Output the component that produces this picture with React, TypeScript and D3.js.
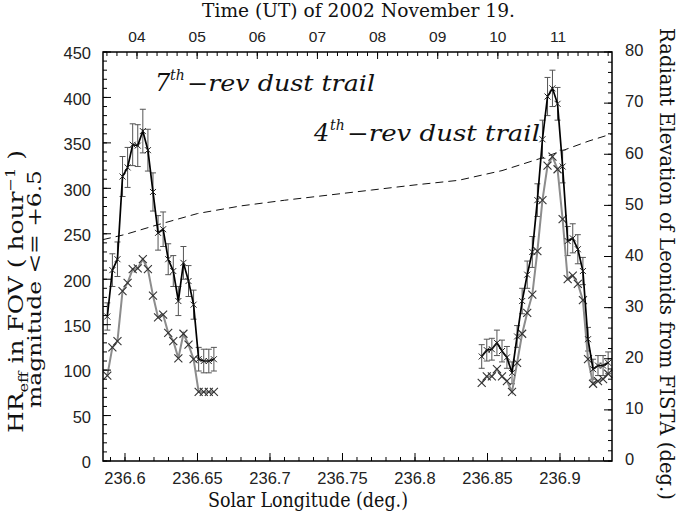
import * as d3 from 'd3';

// ── Layout ────────────────────────────────────────────────────────────────────
const W = 679;
const H = 515;
const FL = 103;
const FR = 612;
const FT = 52;
const FB = 461;

// ── Data ──────────────────────────────────────────────────────────────────────
// 7th-rev group (solar longitude, deg.)
const LEFT_X = [
  236.5878, 236.5913, 236.5948, 236.5983, 236.6018, 236.6053, 236.6088, 236.6123,
  236.6158, 236.6193, 236.6228, 236.6263, 236.6298, 236.6333, 236.6368, 236.6403,
  236.6438, 236.6473, 236.6508, 236.6543, 236.6578, 236.6613,
];
const LEFT_HR = [159, 210, 222, 313, 323, 348, 347, 363, 342, 296, 251, 255, 222, 209, 176, 218, 198, 172, 112, 110, 110, 112];
const LEFT_ERR = [15, 18, 19, 22, 22, 23, 23, 24, 23, 21, 19, 19, 17, 17, 16, 18, 17, 16, 13, 13, 13, 13];
const LEFT_GRAY = [94, 125, 132, 187, 196, 211, 212, 222, 211, 182, 158, 161, 141, 132, 113, 140, 128, 112, 76, 76, 76, 76];

// 4th-rev group
const RIGHT_X = [
  236.8460, 236.8495, 236.8530, 236.8565, 236.8600, 236.8634, 236.8669, 236.8704,
  236.8739, 236.8774, 236.8809, 236.8844, 236.8879, 236.8914, 236.8948, 236.8983,
  236.9018, 236.9053, 236.9088, 236.9123, 236.9158, 236.9193, 236.9228, 236.9262,
  236.9297, 236.9332,
];
const RIGHT_HR = [115, 122, 123, 130, 121, 114, 97, 137, 176, 205, 230, 287, 354, 401, 410, 393, 324, 242, 245, 233, 209, 134, 101, 105, 105, 108];
const RIGHT_ERR = [13, 12, 12, 14, 12, 12, 12, 12, 14, 15, 17, 18, 21, 21, 20, 18, 18, 16, 16, 16, 15, 13, 11, 11, 11, 12];
const RIGHT_GRAY = [86, 93, 93, 101, 93, 88, 76, 108, 140, 163, 183, 231, 287, 325, 335, 321, 266, 200, 204, 195, 177, 112, 85, 88, 90, 96];

// Radiant elevation (right axis)
const ELEV_X = [236.5848, 236.60, 236.62, 236.65, 236.68, 236.71, 236.74, 236.77, 236.80, 236.83, 236.86, 236.89, 236.92, 236.9359];
const ELEV = [43.3, 44.3, 46.0, 48.4, 49.9, 51.0, 52.0, 53.0, 54.0, 54.9, 56.8, 59.5, 62.6, 64.0];

// ── Ticks ─────────────────────────────────────────────────────────────────────
const X_TICKS = [236.6, 236.65, 236.7, 236.75, 236.8, 236.85, 236.9];
const X_TICK_LABELS = ['236.6', '236.65', '236.7', '236.75', '236.8', '236.85', '236.9'];
const HOURS = [4, 5, 6, 7, 8, 9, 10, 11];
const HOUR_LABELS = ['04', '05', '06', '07', '08', '09', '10', '11'];
const YL_TICKS = [0, 50, 100, 150, 200, 250, 300, 350, 400, 450];
const YR_TICKS = [0, 10, 20, 30, 40, 50, 60, 70, 80];

const SANS = '"Liberation Sans", Arial, sans-serif';
const SERIF = '"DejaVu Serif", serif';

export default function App() {
  const x = d3.scaleLinear().domain([236.58483, 236.93586]).range([FL, FR]);
  const t = d3.scaleLinear().domain([3.4347, 11.8979]).range([FL, FR]);
  const yL = d3.scaleLinear().domain([0, 450]).range([FB, FT]);
  const yR = d3.scaleLinear().domain([0, 80]).range([FB, FT]);

  const xMinor = d3.range(23659, 23694).map(v => v / 100);
  const tMinor = d3.range(21, 72).map(v => v / 6);
  const ylMinor = d3.range(0, 451, 10);
  const yrMinor = d3.range(0, 81, 2);

  const lineL = d3.line<[number, number]>().x(d => x(d[0])).y(d => yL(d[1]));
  const lineR = d3.line<[number, number]>().x(d => x(d[0])).y(d => yR(d[1]));

  const groups = [
    { xs: LEFT_X, hr: LEFT_HR, err: LEFT_ERR, gray: LEFT_GRAY },
    { xs: RIGHT_X, hr: RIGHT_HR, err: RIGHT_ERR, gray: RIGHT_GRAY },
  ];

  const cross = (cx: number, cy: number, r: number) =>
    `M${cx - r},${cy - r}L${cx + r},${cy + r}M${cx - r},${cy + r}L${cx + r},${cy - r}`;

  return (
    <svg width={W} height={H} style={{ position: 'absolute', left: 0, top: 0, background: '#fff' }}>
      {/* dashed radiant elevation */}
      <path
        d={lineR(ELEV_X.map((v, i) => [v, ELEV[i]] as [number, number])) ?? ''}
        fill="none" stroke="#111" strokeWidth={1} strokeDasharray="8,5"
      />

      {groups.map((g, gi) => (
        <g key={gi}>
          {/* error bars */}
          {g.xs.map((v, i) => {
            const cx = x(v);
            const y1 = yL(g.hr[i] + g.err[i]);
            const y2 = yL(g.hr[i] - g.err[i]);
            return (
              <path key={i}
                d={`M${cx},${y1}L${cx},${y2}M${cx - 3},${y1}L${cx + 3},${y1}M${cx - 3},${y2}L${cx + 3},${y2}`}
                stroke="#555" strokeWidth={1} fill="none" />
            );
          })}
          {/* gray series */}
          <path d={lineL(g.xs.map((v, i) => [v, g.gray[i]] as [number, number])) ?? ''}
            fill="none" stroke="#8c8c8c" strokeWidth={2} />
          {g.xs.map((v, i) => (
            <path key={`g${i}`} d={cross(x(v), yL(g.gray[i]), 4)} stroke="#333" strokeWidth={1.1} fill="none" />
          ))}
          {/* black series */}
          <path d={lineL(g.xs.map((v, i) => [v, g.hr[i]] as [number, number])) ?? ''}
            fill="none" stroke="#000" strokeWidth={1.7} />
          {g.xs.map((v, i) => (
            <path key={`b${i}`} d={cross(x(v), yL(g.hr[i]), 3)} stroke="#222" strokeWidth={1} fill="none" />
          ))}
        </g>
      ))}

      {/* frame */}
      <rect x={FL} y={FT} width={FR - FL} height={FB - FT} fill="none" stroke="#000" strokeWidth={1.5} />

      {/* bottom ticks */}
      {xMinor.map(v => (
        <line key={`xm${v}`} x1={x(v)} x2={x(v)} y1={FB} y2={FB - 4} stroke="#000" />
      ))}
      {X_TICKS.map((v, i) => (
        <g key={`xt${v}`}>
          <line x1={x(v)} x2={x(v)} y1={FB} y2={FB - 8} stroke="#000" />
          <text x={x(v)} y={484} textAnchor="middle" fontSize={16.5} fontFamily={SANS} fill="#222">
            {X_TICK_LABELS[i]}
          </text>
        </g>
      ))}

      {/* top ticks (time) */}
      {tMinor.map(v => (
        <line key={`tm${v}`} x1={t(v)} x2={t(v)} y1={FT} y2={FT + 4} stroke="#000" />
      ))}
      {HOURS.map((h, i) => (
        <g key={`ht${h}`}>
          <line x1={t(h)} x2={t(h)} y1={FT} y2={FT + 7} stroke="#000" />
          <text x={t(h)} y={42} textAnchor="middle" fontSize={15.5} fontFamily={SANS} fill="#222">
            {HOUR_LABELS[i]}
          </text>
        </g>
      ))}

      {/* left ticks */}
      {ylMinor.map(v => (
        <line key={`lm${v}`} x1={FL} x2={FL + 4} y1={yL(v)} y2={yL(v)} stroke="#000" />
      ))}
      {YL_TICKS.map(v => (
        <g key={`lt${v}`}>
          <line x1={FL} x2={FL + 8} y1={yL(v)} y2={yL(v)} stroke="#000" />
          <text x={91} y={yL(v) + 3} textAnchor="end" dominantBaseline="middle" fontSize={16.5} fontFamily={SANS} fill="#222">
            {v}
          </text>
        </g>
      ))}

      {/* right ticks */}
      {yrMinor.map(v => (
        <line key={`rm${v}`} x1={FR} x2={FR - 4} y1={yR(v)} y2={yR(v)} stroke="#000" />
      ))}
      {YR_TICKS.map(v => (
        <g key={`rt${v}`}>
          <line x1={FR} x2={FR - 8} y1={yR(v)} y2={yR(v)} stroke="#000" />
          <text x={625} y={yR(v)} dominantBaseline="middle" fontSize={16.5} fontFamily={SANS} fill="#222">
            {v}
          </text>
        </g>
      ))}

      {/* titles */}
      <text x={202} y={17} fontSize={18} fontFamily={SERIF} fill="#111" textLength={313} lengthAdjust="spacingAndGlyphs">
        Time (UT) of 2002 November 19.
      </text>
      <text x={208} y={507} fontSize={21} fontFamily={SERIF} fill="#111" textLength={200} lengthAdjust="spacingAndGlyphs">
        Solar Longitude (deg.)
      </text>
      <text x={660} y={28} transform="rotate(90,660,28)" fontSize={20} fontFamily={SERIF} fill="#111"
        textLength={472} lengthAdjust="spacingAndGlyphs">
        Radiant Elevation of Leonids from FISTA (deg.)
      </text>

      {/* left axis label */}
      <text x={23} y={433} transform="rotate(-90,23,433)" fontSize={20} fontFamily={SERIF} fill="#111"
        textLength={283} lengthAdjust="spacingAndGlyphs">
        HR<tspan fontSize={13} dy={5}>eff</tspan><tspan dy={-5}> in FOV ( hour</tspan>
        <tspan fontSize={13} dy={-8}>−1</tspan><tspan dy={8}> )</tspan>
      </text>
      <text x={41} y={408} transform="rotate(-90,41,408)" fontSize={18.5} fontFamily={SERIF} fill="#111"
        textLength={238} lengthAdjust="spacingAndGlyphs">
        magnitude &lt;= +6.5
      </text>

      {/* annotations */}
      <g fontFamily={SERIF} fontStyle="italic" fill="#111">
        <text x={155} y={91} fontSize={24}>7</text>
        <text x={170} y={80} fontSize={14}>th</text>
        <text x={187} y={91} fontSize={22} textLength={188} lengthAdjust="spacingAndGlyphs">−rev dust trail</text>
        <text x={314} y={141} fontSize={24}>4</text>
        <text x={330} y={130} fontSize={14}>th</text>
        <text x={347} y={141} fontSize={22} textLength={193} lengthAdjust="spacingAndGlyphs">−rev dust trail</text>
      </g>
    </svg>
  );
}
